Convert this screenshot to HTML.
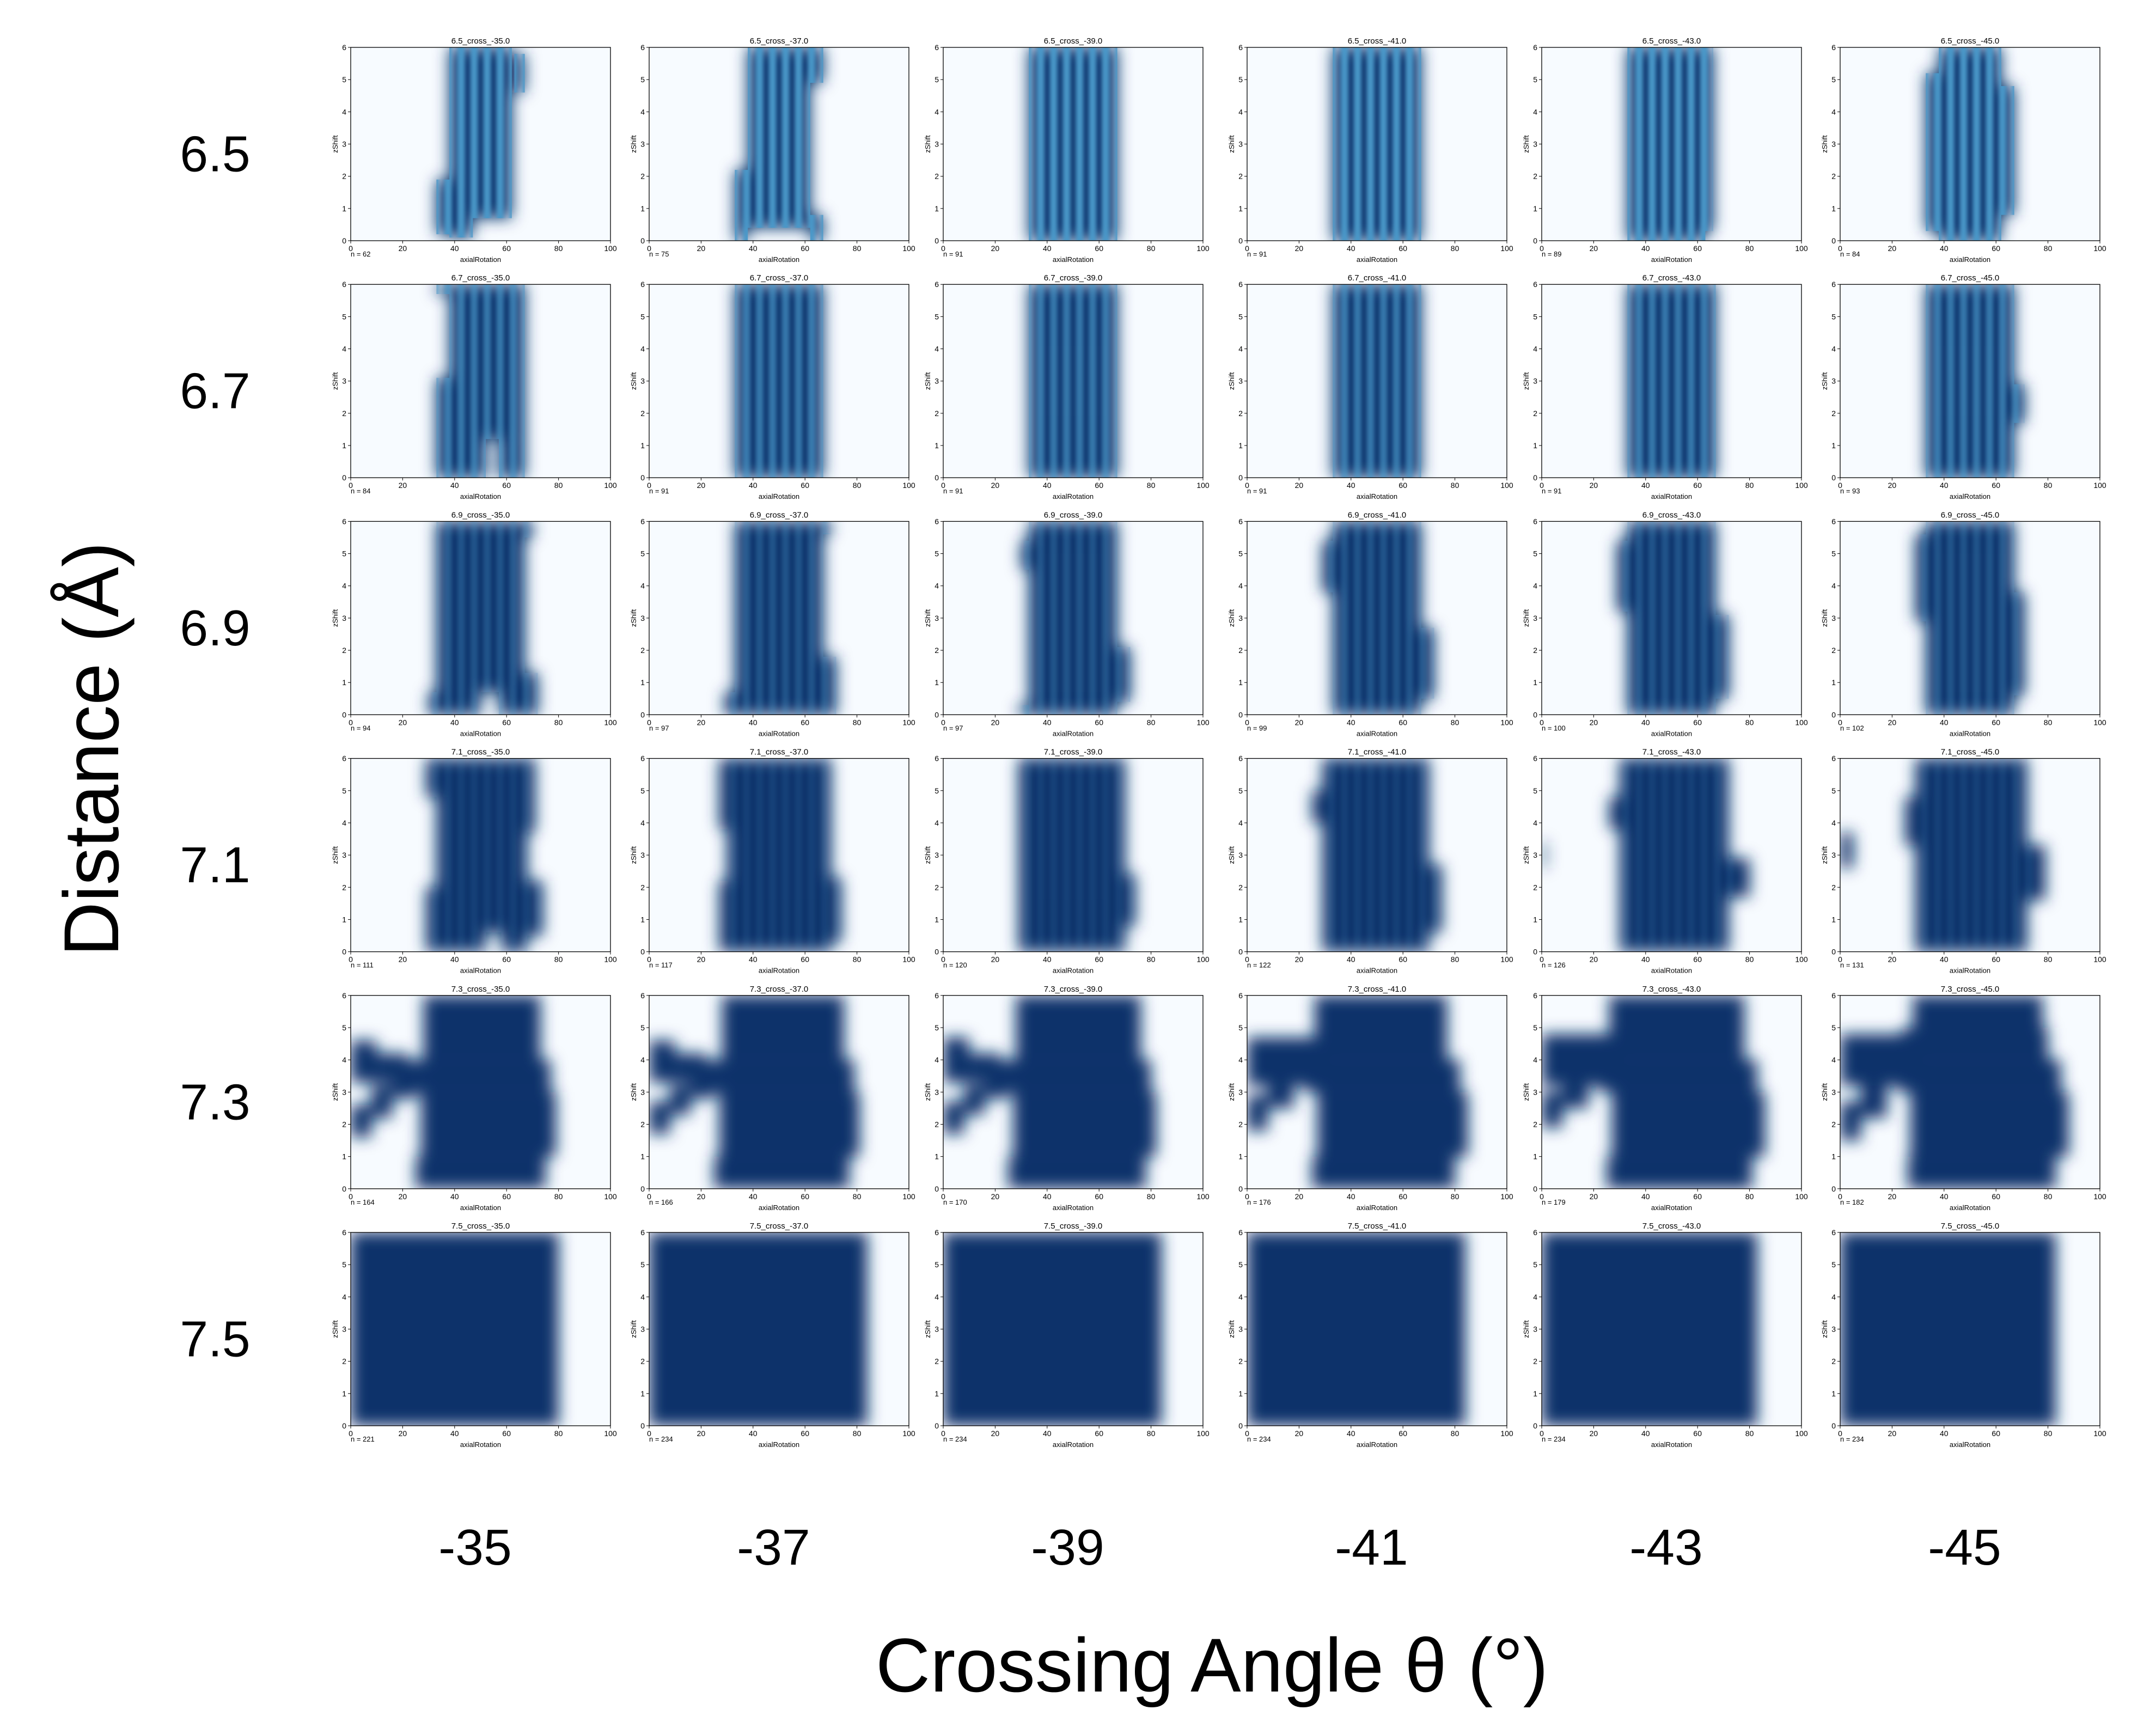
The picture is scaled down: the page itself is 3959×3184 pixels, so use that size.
<!DOCTYPE html>
<html><head><meta charset="utf-8"><style>
html,body{margin:0;padding:0;background:#fff;}
svg{display:block;font-family:"Liberation Sans",sans-serif;}
</style></head><body>
<svg id="fig" width="3959" height="3184" viewBox="0 0 3959 3184" xmlns="http://www.w3.org/2000/svg">
<defs>
<filter id="blurBig" x="-20%" y="-20%" width="140%" height="140%"><feGaussianBlur stdDeviation="14"/></filter>
<filter id="blurSmall" x="-20%" y="-20%" width="140%" height="140%"><feGaussianBlur stdDeviation="4"/></filter>
</defs>
<text transform="translate(217,1756) rotate(-90)" font-size="143" textLength="761" lengthAdjust="spacingAndGlyphs">Distance (Å)</text>
<text x="1608" y="3106" font-size="140" textLength="1235" lengthAdjust="spacingAndGlyphs">Crossing Angle θ (°)</text>
<g id="panels"></g>
</svg>
<script>
const distances = ["6.5","6.7","6.9","7.1","7.3","7.5"];
const angles = ["-35","-37","-39","-41","-43","-45"];
const xTicks = [0,20,40,60,80,100];
const yTicks = [0,1,2,3,4,5,6];
const nCounts = [
 [62,75,91,91,89,84],
 [84,91,91,91,91,93],
 [94,97,97,99,100,102],
 [111,117,120,122,126,131],
 [164,166,170,176,179,182],
 [221,234,234,234,234,234]
];
const stripeLevel = [1,0.7,0.35,0.15,0,0];
// occupied regions per panel: [axialRotation0, axialRotation1, zShift0, zShift1]
const regions = [
 [
  [[38,47,0.1,6],[47,62,0.7,6],[33,38,0.2,1.9],[63,67,4.6,5.8]],
  [[38,62,0.4,6],[33,38,0,2.2],[62,67,0,0.8],[62,67,4.9,6]],
  [[33,67,0,6]],
  [[33,67,0,6]],
  [[33,66,0.3,6],[33,63,0,0.3]],
  [[38,62,0,6],[33,38,0.3,5.2],[62,67,0.8,4.8]]
 ],
 [
  [[38,52,0,6],[52,67,1.2,6],[57,67,0,1.2],[33,38,0,3.1],[33,38,5.7,6]],
  [[33,67,0,6]],
  [[33,67,0,6]],
  [[33,67,0,6]],
  [[33,67,0,6]],
  [[33,67,0,6],[67,71,1.7,2.9]]
 ],
 [
  [[33,67,0.7,6],[30,50,0,0.7],[57,72,0,1.3],[67,70,5.5,6]],
  [[33,67,0,6],[29,33,0,0.7],[67,72,0,1.8],[67,70,5.6,6]],
  [[33,67,0,6],[30,33,4.5,5.4],[67,72,0.4,2.1],[29,33,0,0.3]],
  [[33,67,0,6],[29,33,3.8,5.4],[67,72,0.5,2.7]],
  [[33,67,0,6],[29,33,3.2,5.4],[67,72,0.5,3.1]],
  [[33,67,0,6],[29,33,2.9,5.6],[67,71,0.6,3.8]]
 ],
 [
  [[33,52,0,6],[52,58,0.6,6],[58,68,0,6],[29,33,0,2.0],[29,33,4.8,6],[68,74,0.5,2.2],[68,71,3.7,6]],
  [[30,70,0,6],[27,30,0,2.2],[27,30,3.8,6],[70,74,0.3,2.3]],
  [[29,70,0,6],[70,74,0.8,2.4]],
  [[29,70,0,6],[25,29,4.0,5.0],[70,75,0.6,2.7]],
  [[30,72,0,6],[26,30,3.8,4.8],[72,80,1.7,2.9],[0,1.5,2.6,3.4]],
  [[29,72,0,6],[25,29,3.3,4.8],[72,79,1.6,3.3],[0,5,2.6,3.7]]
 ],
 [
  [[25,75,0,1],[27,79,1,3],[22,77,3,4],[28,73,4,6],[0,8,1.6,2.6],[8,16,2.2,3.2],[16,25,2.8,3.6],[0,10,3.3,4.6],[10,22,3.3,4.2]],
  [[25,77,0,1],[27,81,1,3],[22,79,3,4],[28,75,4,6],[0,8,1.7,2.7],[8,16,2.3,3.2],[16,25,2.8,3.6],[0,10,3.3,4.6],[10,22,3.3,4.2]],
  [[25,78,0,1],[27,82,1,3],[22,80,3,4],[28,76,4,6],[0,8,1.7,2.7],[8,16,2.3,3.2],[16,25,2.8,3.6],[0,10,3.3,4.7],[10,22,3.3,4.2]],
  [[25,80,0,1],[27,85,1,3],[22,82,3,4],[26,77,4,6],[0,8,1.8,2.9],[8,18,2.5,3.3],[0,30,3.2,4.7]],
  [[25,81,0,1],[27,86,1,3],[22,83,3,4],[26,78,4,6],[0,8,1.9,3],[8,18,2.5,3.3],[0,30,3.2,4.8]],
  [[26,83,0,1],[27,88,1,3],[22,85,3,4],[24,80,4,5],[28,78,5,6],[0,8,1.5,2.7],[8,18,2.2,3.2],[0,30,3.2,4.8]]
 ],
 [
  [[0,80,0,6]],
  [[0,84,0,6]],
  [[0,84,0,6]],
  [[0,84,0,6]],
  [[0,83,0,6]],
  [[0,83,0,6]]
 ]
];
const stripeCenters = [32.5,37.5,42.5,47.5,52.5,57.5,62.5,67.5,72.5];

const NS = "http://www.w3.org/2000/svg";
const colLeft = [644,1192,1732,2290,2831,3379];
const plotW = 477, plotH = 355, rowTop0 = 87, rowStep = 435.2;
const root = document.getElementById('panels');
function mk(tag, attrs, parent){ const e=document.createElementNS(NS,tag); for(const k in attrs) e.setAttribute(k,attrs[k]); if(parent) parent.appendChild(e); return e; }
const defs = document.querySelector('defs');

distances.forEach((d,ri)=>{
  const top = rowTop0 + ri*rowStep;
  const rl = mk('text',{x:395,y:top+plotH/2+50,'font-size':93,'text-anchor':'middle'},root);
  
  
  rl.textContent = d;
  angles.forEach((a,ci)=>{
    const L = colLeft[ci];
    const xs = v => L + v/100*plotW;
    const ys = v => top + plotH - v/6*plotH;
    const g = mk('g',{},root);
    
    
    const cid = 'clip'+ri+'_'+ci;
    const cp = mk('clipPath',{id:cid},defs);
    mk('rect',{x:L,y:top,width:plotW,height:plotH},cp);
    const rid = 'reg'+ri+'_'+ci;
    const rp = mk('clipPath',{id:rid},defs);
    mk('rect',{x:L,y:top,width:plotW,height:plotH,fill:'#f7fbff'},g);
    const clipped = mk('g',{'clip-path':'url(#'+cid+')'},g);
    const blobs = mk('g',{filter:'url(#blurBig)'},clipped);
    regions[ri][ci].forEach(r=>{
      const rc = mk('rect',{x:xs(r[0]),y:ys(r[3]),width:xs(r[1])-xs(r[0]),height:ys(r[2])-ys(r[3]),fill:'#08306b'},blobs);
      
      
      mk('rect',{x:xs(r[0]),y:ys(r[3]),width:xs(r[1])-xs(r[0]),height:ys(r[2])-ys(r[3])},rp);
    });
    if(stripeLevel[ri]>0){
      const sg = mk('g',{'clip-path':'url(#'+rid+')'},clipped);
      const sb = mk('g',{filter:'url(#blurSmall)',opacity:stripeLevel[ri]},sg);
      stripeCenters.forEach(c=>{
        const s = mk('rect',{x:xs(c-1.5),y:top-10,width:xs(3)-xs(0),height:plotH+20,fill:'#4a98c9'},sb);
        
        
      });
    }
    mk('rect',{x:L,y:top,width:plotW,height:plotH,fill:'none',stroke:'#000','stroke-width':1.3},g);
    const t = mk('text',{x:L+plotW/2,y:top-7,'font-size':15,'text-anchor':'middle'},g);
    
    
    t.textContent = d+'_cross_'+a+'.0';
    yTicks.forEach(v=>{
      mk('line',{x1:L-5,x2:L,y1:ys(v),y2:ys(v),stroke:'#000','stroke-width':1},g);
      const tl = mk('text',{x:L-8,y:ys(v)+5,'font-size':14,'text-anchor':'end'},g);
      
      
      tl.textContent = v;
    });
    xTicks.forEach(v=>{
      mk('line',{x1:xs(v),x2:xs(v),y1:top+plotH,y2:top+plotH+5,stroke:'#000','stroke-width':1},g);
      const tl = mk('text',{x:xs(v),y:top+plotH+19,'font-size':14,'text-anchor':'middle'},g);
      
      
      tl.textContent = v;
    });
    const yl = mk('text',{transform:'translate('+(L-24)+','+(top+plotH/2)+') rotate(-90)','font-size':13,'text-anchor':'middle'},g);
    
    
    yl.textContent = 'zShift';
    const nl = mk('text',{x:L,y:top+plotH+29,'font-size':13},g);
    
    
    nl.textContent = 'n = '+nCounts[ri][ci];
    const xl = mk('text',{x:L+plotW/2,y:top+plotH+39,'font-size':13,'text-anchor':'middle'},g);
    
    
    xl.textContent = 'axialRotation';
  });
});
angles.forEach((a,ci)=>{
  const cl = mk('text',{x:colLeft[ci]+plotW/2-10,y:2873,'font-size':93,'text-anchor':'middle'},root);
  
  
  cl.textContent = a;
});
</script>
</body></html>
